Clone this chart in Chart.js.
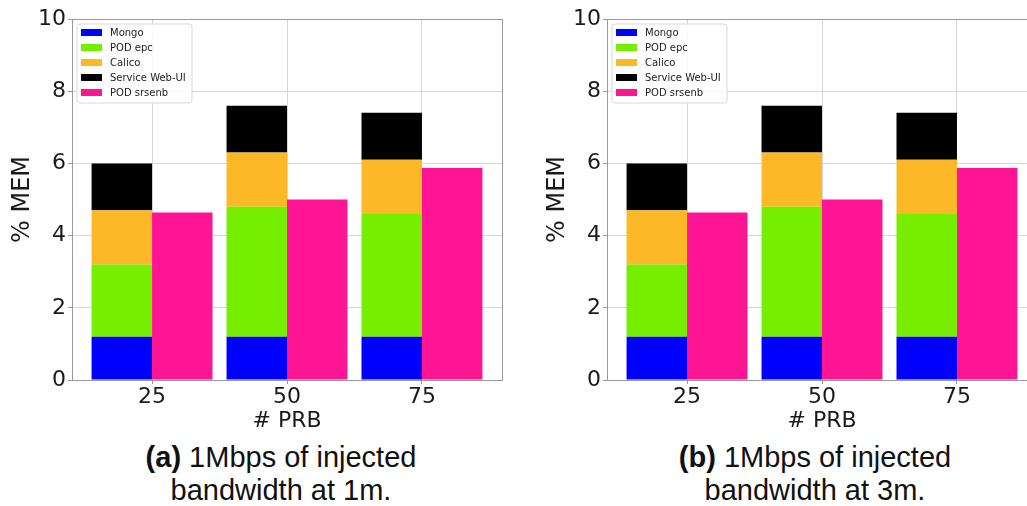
<!DOCTYPE html>
<html>
<head>
<meta charset="utf-8">
<script src="https://cdn.jsdelivr.net/npm/chart.js@4.4.1/dist/chart.umd.min.js"></script>
<style>
  html, body { margin: 0; padding: 0; background: #fff; overflow: hidden; width: 1027px; height: 506px; }
  .panel { position: absolute; top: 0; width: 515px; height: 440px; }
  .caption {
    position: absolute; top: 441px; width: 400px; text-align: center;
    font-family: "Liberation Sans", Arial, sans-serif; font-size: 29px; line-height: 33px; color: #111;
  }
</style>
</head>
<body>
<div class="panel" style="left:0"><canvas id="chartA" width="515" height="440"></canvas></div>
<div class="panel" style="left:535px"><canvas id="chartB" width="515" height="440"></canvas></div>
<div class="caption" style="left:81px"><b>(a)</b> 1Mbps of injected<br>bandwidth at 1m.</div>
<div class="caption" style="left:615px"><b>(b)</b> 1Mbps of injected<br>bandwidth at 3m.</div>

<script>
// Number of PRBs on the x axis
const prbLabels = ['25', '50', '75'];
const yTicks = [0, 2, 4, 6, 8, 10];

// Memory usage (%) at 1 minute
const mongo1m  = [1.2, 1.2, 1.2];
const epc1m    = [2.0, 3.6, 3.4];
const calico1m = [1.5, 1.5, 1.5];
const webui1m  = [1.3, 1.3, 1.3];
const srsenb1m = [4.64, 5.0, 5.87];

// Memory usage (%) at 3 minutes
const mongo3m  = [1.2, 1.2, 1.2];
const epc3m    = [2.0, 3.6, 3.4];
const calico3m = [1.5, 1.5, 1.5];
const webui3m  = [1.3, 1.3, 1.3];
const srsenb3m = [4.64, 5.0, 5.87];

const seriesNames  = ['Mongo', 'POD epc', 'Calico', 'Service Web-UI', 'POD srsenb'];
const seriesColors = ['#0000ff', '#76ee00', '#fdb827', '#000000', '#ff1493'];
const seriesStacks = ['infra', 'infra', 'infra', 'infra', 'enb'];

const GRID = '#d6d6d6';
const EDGE = '#9a9a9a';
const TEXT = '#1a1a1a';
const tickFont = { family: 'DejaVu Sans', size: 22 };

// Frame around the plotting area (top and right edges included)
const framePlugin = {
  id: 'frame',
  afterDraw(chart) {
    const { ctx, chartArea: a } = chart;
    ctx.save();
    ctx.strokeStyle = EDGE;
    ctx.lineWidth = 1;
    ctx.strokeRect(Math.round(a.left) + 0.5, Math.round(a.top) + 0.5,
                   Math.round(a.right - a.left), Math.round(a.bottom - a.top));
    ctx.restore();
  }
};

// Legend box drawn in the upper-left corner of the plotting area
const insetLegend = {
  id: 'insetLegend',
  afterDraw(chart) {
    const { ctx, chartArea: a } = chart;
    const x = a.left + 5, y = a.top + 5, w = 115, h = 79, r = 3;
    ctx.save();
    ctx.beginPath();
    ctx.moveTo(x + r, y);
    ctx.arcTo(x + w, y, x + w, y + h, r);
    ctx.arcTo(x + w, y + h, x, y + h, r);
    ctx.arcTo(x, y + h, x, y, r);
    ctx.arcTo(x, y, x + w, y, r);
    ctx.closePath();
    ctx.fillStyle = 'rgba(255,255,255,0.85)';
    ctx.fill();
    ctx.strokeStyle = '#d8d8d8';
    ctx.lineWidth = 1;
    ctx.stroke();
    ctx.font = '10px "DejaVu Sans"';
    ctx.textBaseline = 'middle';
    ctx.textAlign = 'left';
    chart.data.datasets.forEach((ds, i) => {
      const cy = y + 8.5 + i * 15;
      ctx.fillStyle = ds.backgroundColor;
      ctx.fillRect(x + 4, cy - 3.5, 21, 7);
      ctx.fillStyle = '#222';
      ctx.fillText(ds.label, x + 33, cy + 0.5);
    });
    ctx.restore();
  }
};

function buildChart(canvasId, values) {
  const datasets = values.map((arr, i) => ({
    label: seriesNames[i],
    data: arr.map((v, k) => ({ x: k, y: v })),
    backgroundColor: seriesColors[i],
    borderWidth: 0,
    stack: seriesStacks[i],
    categoryPercentage: 0.896,
    barPercentage: 1.0
  }));

  return new Chart(document.getElementById(canvasId), {
    type: 'bar',
    data: { datasets },
    plugins: [framePlugin, insetLegend],
    options: {
      responsive: false,
      animation: false,
      layout: { padding: { top: 19, right: 13, left: 0, bottom: 0 } },
      plugins: { legend: { display: false }, tooltip: { enabled: false } },
      scales: {
        x: {
          type: 'linear',
          stacked: true,
          offset: false,
          min: -0.593,
          max: 2.593,
          afterBuildTicks(scale) { scale.ticks = prbLabels.map((_, k) => ({ value: k })); },
          afterFit(scale) { scale.height = 60; },
          ticks: {
            callback: (v) => prbLabels[v],
            font: tickFont, color: TEXT, padding: 0, maxRotation: 0
          },
          grid: { color: GRID, tickColor: EDGE, tickLength: 4, drawTicks: true, offset: false },
          border: { color: EDGE },
          title: {
            display: true, text: '# PRB', color: TEXT,
            font: { family: 'DejaVu Sans', size: 22 },
            padding: { top: 0, bottom: 6 }
          }
        },
        y: {
          stacked: true,
          min: 0,
          max: 10,
          afterBuildTicks(scale) { scale.ticks = yTicks.map(v => ({ value: v })); },
          afterFit(scale) { scale.width = 72; },
          ticks: { font: tickFont, color: TEXT, padding: 2 },
          grid: { color: GRID, tickColor: EDGE, tickLength: 4, drawTicks: true },
          border: { color: EDGE },
          title: {
            display: true, text: '% MEM', color: TEXT,
            font: { family: 'DejaVu Sans', size: 24 },
            padding: { top: 8, bottom: 0 }
          }
        }
      }
    }
  });
}

buildChart('chartA', [mongo1m, epc1m, calico1m, webui1m, srsenb1m]);
buildChart('chartB', [mongo3m, epc3m, calico3m, webui3m, srsenb3m]);
</script>
</body>
</html>
